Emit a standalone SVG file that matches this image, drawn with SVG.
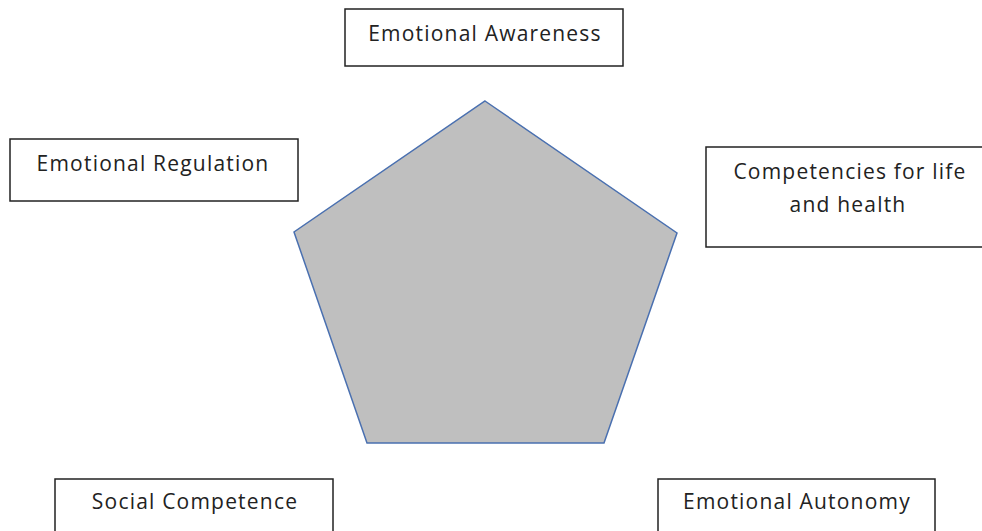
<svg xmlns="http://www.w3.org/2000/svg" width="982" height="531" viewBox="0 0 982 531">
<style>
.box{fill:#fff;stroke:#222;stroke-width:1.5}
.t{font-family:"Open Sans","Liberation Sans",sans-serif;font-size:21px;letter-spacing:1.2px;fill:#222;text-anchor:middle}
</style>
<rect width="982" height="531" fill="#fff"/>
<g id="pentagon">
<polygon points="485,101 677,233 604,443 367,443 294,232" fill="#bfbfbf" stroke="#4a70b0" stroke-width="1.5"/>
</g>
<g id="connectors"></g>
<g id="emotional-awareness">
<rect class="box" x="345" y="9" width="278" height="57"/>
<text class="t" x="485" y="41">Emotional Awareness</text>
</g>
<g id="emotional-regulation">
<rect class="box" x="10" y="139" width="288" height="62"/>
<text class="t" x="153" y="171">Emotional Regulation</text>
</g>
<g id="competencies">
<rect class="box" x="706" y="147" width="290" height="100"/>
<text class="t" x="850" y="179">Competencies for life</text>
<text class="t" x="848" y="212">and health</text>
</g>
<g id="social-competence">
<rect class="box" x="55" y="479" width="278" height="70"/>
<text class="t" x="195" y="509">Social Competence</text>
</g>
<g id="emotional-autonomy">
<rect class="box" x="658" y="479" width="277" height="70"/>
<text class="t" x="797" y="509">Emotional Autonomy</text>
</g>
</svg>
